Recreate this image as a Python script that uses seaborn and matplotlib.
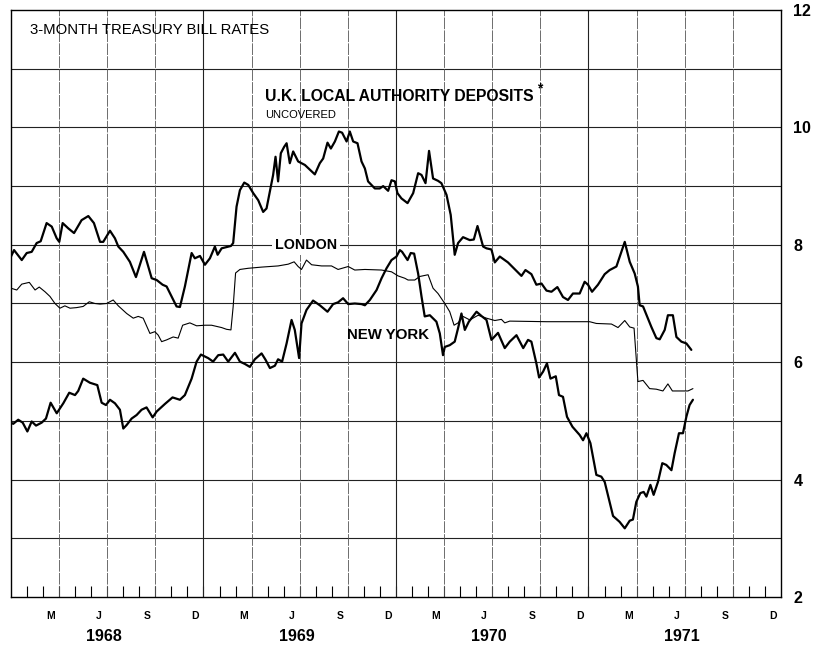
import pandas as pd
import seaborn as sns
import matplotlib.pyplot as plt

# x = months since 1 Jan 1968, y = percent per annum
uk_months = [0.00, 0.19, 0.67, 0.98, 1.29, 1.60, 1.85, 2.22, 2.54, 2.85, 3.01, 3.22, 3.57, 3.93,
             4.40, 4.82, 5.17, 5.55, 5.75, 6.17, 6.48, 6.69, 7.00, 7.41, 7.79, 8.29, 8.77, 9.08,
             9.45, 9.70, 10.32, 10.53, 10.84, 11.26, 11.46, 11.78, 12.09, 12.40, 12.71, 12.88,
             13.13, 13.71, 13.85, 14.06, 14.27, 14.54, 14.79, 15.10, 15.41, 15.72, 15.93, 16.20,
             16.34, 16.49, 16.65, 16.82, 17.03, 17.18, 17.38, 17.59, 17.90, 18.32, 18.94, 19.25,
             19.46, 19.73, 19.94, 20.19, 20.44, 20.64, 20.92, 21.12, 21.33, 21.60, 21.85, 22.06,
             22.26, 22.68, 22.99, 23.20, 23.51, 23.72, 23.93, 24.09, 24.34, 24.72, 25.07, 25.38,
             25.59, 25.84, 26.06, 26.31, 26.62, 26.83, 27.15, 27.41, 27.66, 27.87, 28.18, 28.60,
             28.85, 29.08, 29.43, 29.64, 29.95, 30.16, 30.47, 30.98, 31.82, 32.07, 32.44, 32.75,
             33.07, 33.38, 33.69, 34.06, 34.41, 34.72, 35.03, 35.45, 35.76, 35.97, 36.22, 36.59,
             37.01, 37.32, 37.74, 38.26, 38.57, 38.88, 39.08, 39.19, 39.40, 39.92, 40.23, 40.44,
             40.75, 40.95, 41.26, 41.48, 41.79, 42.10, 42.41]
uk_rates = [7.80, 7.91, 7.74, 7.86, 7.88, 8.03, 8.06, 8.37, 8.31, 8.11, 8.05, 8.37, 8.28, 8.20,
            8.42, 8.49, 8.37, 8.05, 8.05, 8.24, 8.11, 7.97, 7.88, 7.71, 7.45, 7.88, 7.43, 7.40,
            7.32, 7.29, 6.95, 6.94, 7.29, 7.86, 7.77, 7.81, 7.66, 7.77, 7.97, 7.83,
            7.94, 7.98, 8.03, 8.65, 8.93, 9.06, 9.02, 8.88, 8.76, 8.56, 8.62, 9.00,
            9.19, 9.50, 9.08, 9.56, 9.67, 9.73, 9.39, 9.59, 9.42, 9.36, 9.20, 9.39,
            9.47, 9.74, 9.64, 9.76, 9.93, 9.91, 9.76, 9.93, 9.76, 9.73, 9.42, 9.30,
            9.08, 8.96, 8.96, 9.00, 8.92, 9.10, 9.08, 8.88, 8.79, 8.71, 8.88, 9.22,
            9.19, 9.05, 9.60, 9.13, 9.09, 9.05, 8.85, 8.51, 7.83, 8.03, 8.13, 8.08,
            8.09, 8.32, 7.97, 7.94, 7.92, 7.70, 7.80, 7.70, 7.47, 7.57, 7.50, 7.32,
            7.34, 7.22, 7.20, 7.28, 7.11, 7.06, 7.17, 7.17, 7.37, 7.32, 7.20, 7.32,
            7.50, 7.57, 7.63, 8.05, 7.71, 7.51, 7.29, 6.97, 6.95, 6.60, 6.41, 6.39,
            6.55, 6.80, 6.80, 6.43, 6.35, 6.32, 6.21]

london_months = [0.00, 0.36, 0.67, 1.14, 1.50, 1.76, 2.12, 2.43, 2.74, 3.05, 3.36, 3.68, 4.09,
                 4.50, 4.88, 5.23, 5.55, 5.96, 6.37, 6.69, 7.21, 7.62, 7.93, 8.24, 8.66, 8.97,
                 9.18, 9.39, 9.70, 10.11, 10.42, 10.70, 11.15, 11.57, 12.09, 12.50, 13.13, 13.44,
                 13.71, 13.85, 14.00, 14.27, 14.79, 15.62, 16.65, 17.28, 17.65, 17.90, 18.11,
                 18.42, 18.74, 19.36, 19.98, 20.39, 21.02, 21.43, 22.06, 23.10, 23.72, 24.13,
                 24.55, 24.75, 25.17, 25.48, 26.00, 26.31, 26.62, 27.04, 27.35, 27.62, 27.87,
                 28.18, 28.60, 29.12, 29.64, 30.16, 30.57, 30.78, 31.09, 33.38, 36.07, 36.49,
                 37.43, 37.84, 38.26, 38.57, 38.84, 39.08, 39.40, 39.81, 40.23, 40.64, 40.95,
                 41.23, 41.68, 42.20, 42.51]
london_rates = [7.26, 7.23, 7.33, 7.36, 7.23, 7.28, 7.20, 7.12, 7.00, 6.92, 6.96, 6.92, 6.93,
                6.95, 7.03, 7.00, 6.99, 7.00, 7.06, 6.96, 6.83, 6.75, 6.78, 6.75, 6.49, 6.52,
                6.46, 6.35, 6.38, 6.43, 6.41, 6.63, 6.67, 6.62, 6.63, 6.63, 6.59, 6.56,
                6.55, 6.95, 7.52, 7.58, 7.60, 7.62, 7.64, 7.67, 7.71, 7.63, 7.58,
                7.74, 7.66, 7.64, 7.64, 7.58, 7.63, 7.57, 7.58, 7.57, 7.54, 7.47,
                7.43, 7.40, 7.40, 7.46, 7.49, 7.26, 7.17, 7.00, 6.86, 6.63, 6.67,
                6.78, 6.72, 6.80, 6.75, 6.71, 6.73, 6.67, 6.70, 6.69, 6.69, 6.66,
                6.65, 6.59, 6.71, 6.60, 6.58, 5.67, 5.69, 5.55, 5.54, 5.51, 5.63,
                5.51, 5.51, 5.51, 5.55]

ny_months = [0.00, 0.14, 0.45, 0.73, 1.02, 1.29, 1.56, 1.91, 2.18, 2.47, 2.85, 3.26, 3.63, 3.99,
             4.19, 4.50, 4.92, 5.38, 5.65, 5.92, 6.17, 6.48, 6.79, 7.00, 7.21, 7.52, 7.83, 8.14,
             8.45, 8.83, 9.08, 9.60, 10.07, 10.53, 10.84, 11.26, 11.57, 11.84, 12.29, 12.60,
             12.92, 13.23, 13.54, 13.96, 14.27, 14.58, 14.89, 15.20, 15.62, 15.87, 16.14, 16.45,
             16.65, 16.90, 17.18, 17.49, 17.69, 17.96, 18.11, 18.42, 18.83, 19.25, 19.73, 20.08,
             20.39, 20.70, 21.02, 21.43, 21.85, 22.06, 22.37, 22.79, 23.10, 23.41, 23.72, 24.03,
             24.24, 24.38, 24.72, 24.92, 25.13, 25.38, 25.59, 25.79, 26.11, 26.52, 26.73, 26.93,
             27.04, 27.35, 27.66, 27.87, 28.08, 28.29, 28.54, 29.02, 29.36, 29.64, 29.95, 30.36,
             30.78, 31.09, 31.51, 31.93, 32.23, 32.44, 32.75, 32.92, 33.17, 33.41, 33.63, 33.96,
             34.16, 34.41, 34.66, 35.00, 35.45, 35.66, 35.87, 36.12, 36.49, 36.80, 37.01, 37.53,
             37.94, 38.26, 38.57, 38.77, 38.98, 39.23, 39.44, 39.61, 39.86, 40.06, 40.33, 40.60,
             40.85, 41.17, 41.37, 41.64, 41.89, 42.10, 42.30, 42.51]
ny_rates = [4.97, 4.95, 5.02, 4.97, 4.82, 4.99, 4.92, 4.97, 5.04, 5.31, 5.13, 5.30, 5.48, 5.44,
            5.51, 5.72, 5.65, 5.61, 5.31, 5.27, 5.36, 5.30, 5.19, 4.87, 4.93, 5.04, 5.10, 5.19,
            5.23, 5.06, 5.16, 5.29, 5.40, 5.36, 5.44, 5.72, 6.01, 6.13, 6.07, 6.01,
            6.12, 6.13, 6.01, 6.16, 6.01, 5.97, 5.92, 6.05, 6.15, 6.04, 5.90, 5.94,
            6.05, 6.01, 6.32, 6.72, 6.55, 6.07, 6.66, 6.89, 7.05, 6.97, 6.86, 6.99,
            7.02, 7.09, 6.99, 7.00, 6.99, 6.97, 7.06, 7.23, 7.43, 7.60, 7.74, 7.80,
            7.91, 7.88, 7.74, 7.86, 7.85, 7.51, 7.12, 6.78, 6.80, 6.69, 6.49, 6.12,
            6.26, 6.29, 6.35, 6.58, 6.83, 6.55, 6.69, 6.86, 6.78, 6.72, 6.38, 6.50,
            6.24, 6.35, 6.46, 6.24, 6.38, 6.35, 5.98, 5.74, 5.84, 5.98, 5.72, 5.76,
            5.44, 5.41, 5.07, 4.90, 4.76, 4.67, 4.79, 4.62, 4.08, 4.05, 3.96, 3.38,
            3.28, 3.17, 3.30, 3.32, 3.62, 3.77, 3.79, 3.71, 3.91, 3.74, 3.96, 4.28,
            4.25, 4.16, 4.45, 4.79, 4.79, 5.07, 5.27, 5.36]

month_labels = ['M', 'J', 'S', 'D']
year_labels = ['1968', '1969', '1970', '1971']
rate_ticks = [2, 4, 6, 8, 10, 12]

sns.set_style('white')
plt.rcParams['font.family'] = ['Liberation Sans', 'DejaVu Sans']
plt.rcParams['text.color'] = 'black'
plt.rcParams['xtick.color'] = 'black'
plt.rcParams['ytick.color'] = 'black'

fig = plt.figure(figsize=(8.19, 6.45), dpi=100)
ax = fig.add_axes([11 / 819, 48 / 645, 770 / 819, 587 / 645])

series = [(uk_months, uk_rates, 1.6), (london_months, london_rates, 0.8),
          (ny_months, ny_rates, 1.6)]
for months, rates, lw in series:
    df = pd.DataFrame({'month': months, 'rate': rates})
    sns.lineplot(data=df, x='month', y='rate', ax=ax, color='black',
                 linewidth=lw, estimator=None, zorder=3)

ax.set_xlim(0, 48)
ax.set_ylim(2, 12)
ax.set_xlabel('')
ax.set_ylabel('')

# horizontal grid every point, vertical grid every quarter
for v in range(3, 12):
    ax.axhline(v, color='#222222', lw=0.8, zorder=1)
for q in range(3, 48, 3):
    if q % 12 == 0:
        ax.axvline(q, color='#222222', lw=0.8, zorder=1)
    else:
        ax.axvline(q, color='#555555', lw=0.6, ls=(0, (14, 1.5)), zorder=1)

for s in ax.spines.values():
    s.set_color('black')
    s.set_linewidth(1.0)

# month labels under the axis, monthly ticks pointing in
centers = [12 * y + c for y in range(4) for c in (2.5, 5.5, 8.5, 11.5)]
ax.set_xticks(centers)
ax.set_xticklabels(month_labels * 4, fontsize=7.5, fontweight='bold')
ax.set_xticks(range(1, 48), minor=True)
ax.tick_params(axis='x', which='major', length=0, pad=10)
ax.tick_params(axis='x', which='minor', direction='in', length=8, width=0.8,
               bottom=True, color='black')

for i, yr in enumerate(year_labels):
    ax.text(12 * i + 5.8, -0.068, yr, transform=ax.get_xaxis_transform(),
            ha='center', va='center', fontsize=11.5, fontweight='bold')

ax.yaxis.tick_right()
ax.set_yticks(rate_ticks)
ax.set_yticklabels([str(t) for t in rate_ticks], fontsize=11.5, fontweight='bold')
ax.tick_params(axis='y', length=0, pad=9)

ax.text(1.2, 11.66, '3-MONTH TREASURY BILL RATES', fontsize=10.7, va='center')
ax.text(15.83, 10.52, 'U.K. LOCAL AUTHORITY DEPOSITS', fontsize=11.3, fontweight='bold',
        va='center')
ax.text(32.8, 10.66, '*', fontsize=10, fontweight='bold', va='center')
ax.text(15.83, 10.21, 'UNCOVERED', fontsize=8, va='center')
ax.text(18.38, 8.0, 'LONDON', fontsize=10.3, fontweight='bold', ha='center', va='center',
        bbox=dict(facecolor='white', edgecolor='none', pad=2), zorder=4)
ax.text(20.93, 6.46, 'NEW YORK', fontsize=10.8, fontweight='bold', va='center', zorder=4)

plt.savefig('out.png', dpi=100)
